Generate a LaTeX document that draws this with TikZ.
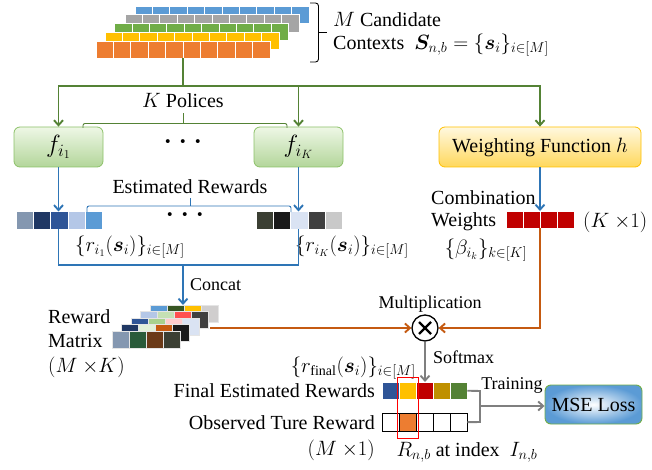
\documentclass[tikz,border=0pt]{standalone}
\usepackage{amsmath}
\usepackage{bm}
\usepackage{fontspec}
\setmainfont{Liberation Serif}
\usetikzlibrary{arrows.meta,calc}
\definecolor{cblue}{HTML}{5B9BD5}
\definecolor{cgray}{HTML}{A5A5A5}
\definecolor{cgreenb}{HTML}{70AD47}
\definecolor{cyellow}{HTML}{FFC000}
\definecolor{corange}{HTML}{ED7D31}
\definecolor{lgreen}{HTML}{548235}
\definecolor{lblue}{HTML}{2E75B6}
\definecolor{lorange}{HTML}{C55A11}
\definecolor{lgray}{HTML}{7F7F7F}
\definecolor{fgtop}{HTML}{EEF7E6}
\definecolor{fgbot}{HTML}{B3D69A}
\definecolor{fgdraw}{HTML}{8CC168}
\definecolor{hytop}{HTML}{FFF8DF}
\definecolor{hybot}{HTML}{FFD85C}
\definecolor{hydraw}{HTML}{FFC000}
\definecolor{k1}{HTML}{8497B0}
\definecolor{k2}{HTML}{203864}
\definecolor{k3}{HTML}{2F5597}
\definecolor{k4}{HTML}{B4C7E7}
\definecolor{k5}{HTML}{5B9BD5}
\definecolor{m1}{HTML}{3B3F33}
\definecolor{m2}{HTML}{1A1A1A}
\definecolor{m3}{HTML}{DAE3F3}
\definecolor{m4}{HTML}{404040}
\definecolor{m5}{HTML}{C9C9C9}
\definecolor{a2}{HTML}{375623}
\definecolor{a4}{HTML}{D0CECE}
\definecolor{b2}{HTML}{C5E0B4}
\definecolor{b3}{HTML}{FF5050}
\definecolor{c2}{HTML}{A9D18E}
\definecolor{c3}{HTML}{FFCCCC}
\definecolor{d2}{HTML}{E2F0D9}
\definecolor{e2}{HTML}{2A5B3A}
\definecolor{e3}{HTML}{6B3A18}
\definecolor{wred}{HTML}{C00000}
\definecolor{fin4}{HTML}{BF9000}
\tikzset{
  txt/.style={font=\fontsize{20}{24}\selectfont, inner sep=0pt},
  stxt/.style={font=\fontsize{18}{21}\selectfont, inner sep=0pt},
  gline/.style={draw=lgreen, line width=1.9pt},
  garr/.style={gline, -{Straight Barb[length=5pt,width=9pt]}},
  bline/.style={draw=lblue, line width=1.9pt},
  barr/.style={bline, -{Straight Barb[length=5pt,width=9pt]}},
  oline/.style={draw=lorange, line width=1.9pt},
  oarr/.style={oline, -{Straight Barb[length=5pt,width=9pt]}},
  grline/.style={draw=lgray, line width=1.9pt},
  grarr/.style={grline, -{Straight Barb[length=5pt,width=9pt]}},
  fbox/.style={draw=fgdraw, line width=0.8pt, rounded corners=6pt, top color=fgtop, bottom color=fgbot, minimum width=89pt, minimum height=40pt, font=\fontsize{24}{24}\selectfont},
  hbox/.style={draw=hydraw, line width=0.8pt, rounded corners=6pt, top color=hytop, bottom color=hybot, minimum width=202pt, minimum height=40pt, txt},
  rowframe/.style={inner sep=0pt, minimum height=17.5pt, anchor=north west},
  cellw/.style={draw=white, line width=0.7pt},
  cellm/.style={draw=white!80!gray, line width=0.6pt},
  cellk/.style={draw=black, line width=0.8pt},
}
\newcommand\cellrow[6]{%
  \foreach \cc [count=\ii from 0] in {#6}{%
    \filldraw[fill=\cc, #5] ({#1+\ii*#3},#2) rectangle ++(#3,#4);}}
\begin{document}
\begin{tikzpicture}[x=1pt,y=-1pt]
\useasboundingbox (0,0) rectangle (652,470);

% ---- candidate contexts stack
\foreach \cc/\xx/\yy in {cblue/135/6, cgray/125/14.5, cgreenb/114.5/23, cyellow/105/32, corange/96/41}{
  \foreach \ii in {0,...,9}{
    \filldraw[fill=\cc, cellw] ({\xx+\ii*17.4},\yy) rectangle ++(17.4,17.5);}}
\coordinate (stk) at (183,58.5);
\draw[line width=0.9pt, rounded corners=3pt] (310,3) -- (318.5,3) -- (318.5,62) -- (310,62);
\draw[line width=0.9pt] (318.5,32.5) -- (327,32.5);
\node[txt, anchor=west] (cand1) at (333,20) {$M$ Candidate};
\node[txt, anchor=west] (cand2) at (333,45) {Contexts\ \ $\bm{S}_{n,b}=\{\bm{s}_i\}_{i\in[M]}$};

% ---- policies
\node[fbox] (f1) at (58.5,147) {$f_{i_1}$};
\node[fbox] (fK) at (298.5,147) {$f_{i_K}$};
\node[hbox] (h) at (540,147) {Weighting Function $h$};
\node[font=\fontsize{24}{24}\selectfont, inner sep=0pt] (dots1) at (183,145) {\textbf{·}\hspace{7pt}\textbf{·}\hspace{7pt}\textbf{·}};

\coordinate (gs) at (183,86);
\draw[gline] (stk) -- (gs);
\draw[garr] (gs) -| (f1.north);
\draw[garr] (gs) -| (fK.north);
\draw[garr] (gs) -| (h.north);

\draw[lgreen, line width=0.9pt, rounded corners=2pt] (83,128) -- (83,123.5) -- (287,123.5) -- (287,128);
\draw[lgreen, line width=0.9pt] (183,123.5) -- (183,113);
\node[txt] (kpol) at (183,101) {$K$ Polices};

% ---- estimated rewards rows
\node[rowframe, minimum width=86.5pt] (row1) at (16,211.5) {};
\node[rowframe, minimum width=86.5pt] (rowK) at (256,211.5) {};
\cellrow{16}{211.5}{17.3}{17.5}{cellw}{k1,k2,k3,k4,k5}
\cellrow{256}{211.5}{17.3}{17.5}{cellw}{m1,m2,m3,m4,m5}
\draw[barr] (f1.south) -- (f1.south |- row1.north);
\draw[barr] (fK.south) -- (fK.south |- rowK.north);
\draw[lblue, line width=0.9pt, rounded corners=2pt] (87,212) -- (87,206) -- (291,206) -- (291,212);
\draw[lblue, line width=0.9pt] (190,206) -- (190,198);
\node[txt] (estr) at (190,187) {Estimated Rewards};
\node[font=\fontsize{24}{24}\selectfont, inner sep=0pt] (dots2) at (185,218) {\textbf{·}\hspace{7pt}\textbf{·}\hspace{7pt}\textbf{·}};
\node[txt] (r1lab) at (130,247) {$\{r_{i_1}(\bm{s}_i)\}_{i\in[M]}$};
\node[txt] (rKlab) at (352,247) {$\{r_{i_K}(\bm{s}_i)\}_{i\in[M]}$};

% ---- concat to reward matrix
\coordinate (cat) at (183,265);
\draw[bline] (f1.south |- row1.south) |- (cat) -| (fK.south |- rowK.south);
\node[inner sep=0pt, minimum width=106pt, minimum height=43pt, anchor=north west] (mat) at (112,305) {};
\cellrow{150}{305}{17}{17}{cellm}{k5,a2,cyellow,a4}
\cellrow{140.5}{311.5}{17}{17}{cellm}{k4,b2,b3,m4}
\cellrow{131}{318}{17}{17}{cellm}{k3,c2,c3,m3}
\cellrow{121.5}{324.5}{17}{17}{cellm}{k2,d2,lorange,m2}
\cellrow{112}{331}{17}{17}{cellm}{k1,e2,e3,m1}
\draw[barr] (cat) -- (cat |- mat.north);
\node[stxt, anchor=west] (concat) at (190,285) {Concat};
\node[txt, anchor=west] (rm1) at (48,317) {Reward};
\node[txt, anchor=west] (rm2) at (48,341) {Matrix};
\node[txt, anchor=west] (rm3) at (48,367) {$(M\ {\times}K)$};

% ---- combination weights
\node[rowframe, minimum width=68pt, minimum height=17pt] (wts) at (506,211) {};
\cellrow{506}{211}{17}{17}{cellw}{wred,wred,wred,wred}
\draw[barr] (h.south) -- (h.south |- wts.north);
\node[txt, anchor=west] (comb1) at (431,198) {Combination};
\node[txt, anchor=west] (comb2) at (431,222) {Weights};
\node[txt, anchor=west] (k1lab) at (583,222) {$(K\ {\times}1)$};
\node[txt] (betalab) at (486,250) {$\{\beta_{i_k}\}_{k\in[K]}$};

% ---- multiplication
\node[draw, circle, line width=1.3pt, minimum size=26pt, inner sep=0pt,
  path picture={\draw[line width=2.2pt] ($(path picture bounding box.center)+(-6,-6)$) -- ($(path picture bounding box.center)+(6,6)$)
  ($(path picture bounding box.center)+(-6,6)$) -- ($(path picture bounding box.center)+(6,-6)$);}] (mult) at (425,328) {};
\node[stxt] (multlab) at (430,304) {Multiplication};
\coordinate (matR) at (210,328);
\draw[oarr] (matR) -- (mult.west);
\draw[oarr] (wts.south) |- (mult.east);

% ---- final rewards
\node[rowframe, minimum width=85pt, minimum height=17pt] (fin) at (382,382) {};
\node[rowframe, minimum width=85pt, minimum height=18pt] (obs) at (382,413) {};
\cellrow{382}{382}{17}{17}{cellw}{k3,cyellow,wred,fin4,lgreen}
\cellrow{382}{413}{17}{18}{cellk}{white,corange,white,white,white}
\draw[grarr] (mult.south) -- (mult.south |- fin.north);
\node[stxt, anchor=west] (softm) at (433,357) {Softmax};
\node[txt, anchor=east] (rfin) at (416,368) {$\{r_{\mathrm{final}}(\bm{s}_i)\}_{i\in[M]}$};
\draw[red, line width=0.9pt] (397,377) rectangle (418,438);
\node[txt, anchor=east] (finlab) at (375,391) {Final Estimated Rewards};
\node[txt, anchor=east] (obslab) at (375,423) {Observed Ture Reward};
\node[txt, anchor=east] (m1lab) at (375,450) {$(M\ {\times}1)$};
\node[txt] (rlab) at (467,452) {$R_{n,b}$ at index\ \ $I_{n,b}$};

% ---- MSE loss
\node[draw=cgreenb, line width=0.9pt, rounded corners=6pt, shading=radial, inner color=white, outer color=cblue, minimum width=97pt, minimum height=39pt, txt] (mse) at (593.5,404.5) {MSE Loss};
\coordinate (tjT) at (480,391);
\coordinate (tjB) at (480,422);
\coordinate (tj) at (480,406);
\draw[grline] (fin.east) -- (tjT) -- (tjB) -- (obs.east);
\draw[grarr] (tj) -- (tj -| mse.west);
\node[stxt] (train) at (512,385) {Training};
\end{tikzpicture}
\end{document}
